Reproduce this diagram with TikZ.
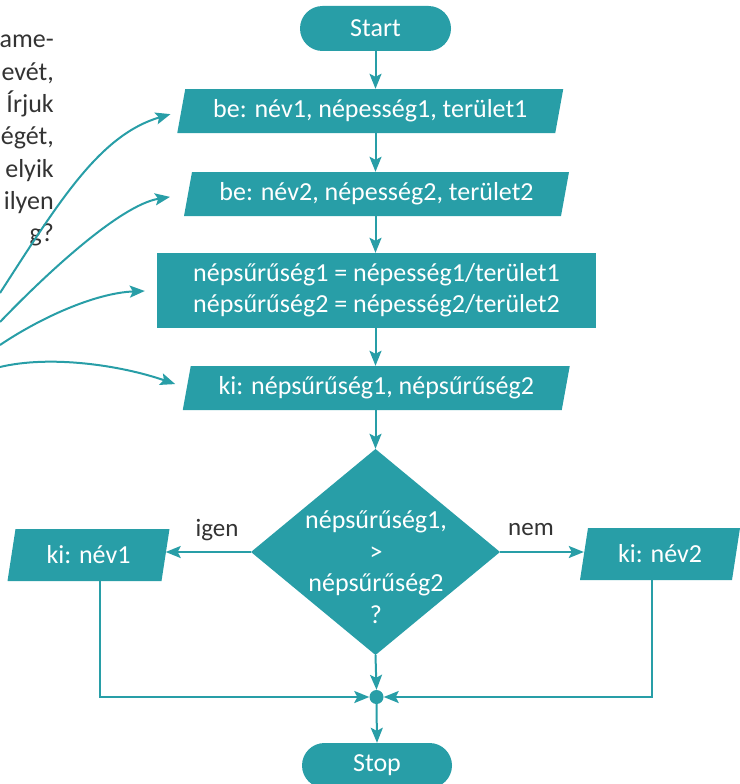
\documentclass[tikz,border=0pt]{standalone}
\usepackage{fontspec}
\setmainfont{Carlito}
\usetikzlibrary{arrows.meta}
\definecolor{tl}{HTML}{289EA7}
\definecolor{ink}{HTML}{333333}
\newcommand{\ioshape}[7]{% name, cx, cy, halfw, halfh, slant, text
  \fill[tl] ({#2-#4+#6},{#3-#5}) -- ({#2+#4+#6},{#3-#5}) -- ({#2+#4-#6},{#3+#5}) -- ({#2-#4-#6},{#3+#5}) -- cycle;
  \node[boxtext, minimum width={2*#4}, minimum height={2*#5}] (#1) at (#2,#3) {#7};}
\tikzset{
  boxtext/.style={inner sep=0pt, text=white, font=\fontsize{26}{31}\selectfont, align=center},
  flow/.style={draw=tl, line width=2pt, -{Stealth[length=15pt,width=12pt,inset=3pt]}},
  curvy/.style={draw=tl, line width=2pt, -{Stealth[length=15pt,width=12pt,inset=3pt]}},
  pill/.style={fill=tl, rounded corners=22.5pt, minimum width=151pt, minimum height=45pt, inner sep=0pt, text=white, font=\fontsize{26}{30}\selectfont},
  lbl/.style={inner sep=0pt, text=ink, font=\fontsize{25}{28}\selectfont},
  paratext/.style={inner sep=0pt, text=ink, font=\fontsize{26}{30}\selectfont, anchor=base east},
}
\begin{document}
\begin{tikzpicture}[x=1pt,y=-1pt]
\useasboundingbox (0,0) rectangle (739,784);
\coordinate (axis) at (375.5,0);
% left paragraph fragment
\foreach \t [count=\i] in {{ame-},{evét,},{Írjuk},{égét,},{elyik},{ilyen},{g?}}
  \node[paratext] (p\i) at (54,{48+32.3*(\i-1)}) {\t};
% flow nodes
\node[pill] (start) at (375.5,28.5) {Start};
\ioshape{be1}{370.25}{111}{189}{22}{4}{be: név1, népesség1, terület1}
\ioshape{be2}{376.5}{194}{188.5}{22}{4}{be: név2, népesség2, terület2}
\node[boxtext, fill=tl, minimum width=439pt, minimum height=75pt] (calc) at (376.5,290.5) {népsűrűség1 = népesség1/terület1\\népsűrűség2 = népesség2/terület2};
\ioshape{kid}{376.25}{388}{189.5}{22}{4}{ki: népsűrűség1, népsűrűség2}
\fill[tl] (375.5,449) -- (500,552) -- (375.5,655) -- (251,552) -- cycle;
\node[inner sep=0pt, minimum width=249pt, minimum height=206pt] (dec) at (375.5,552) {};
\node[boxtext, font=\fontsize{26}{31.5}\selectfont] (dtext) at (376,567) {népsűrűség1,\\>\\népsűrűség2\\?};
\ioshape{k1}{88.5}{555}{77}{26}{4}{ki: név1}
\ioshape{k2}{660}{554}{76}{26}{4}{ki: név2}
\node[circle, fill=tl, minimum size=14pt, inner sep=0pt] (dot) at (376.5,697) {};
\node[pill, minimum width=150pt] (stop) at (377,765.5) {Stop};
\node[lbl] (igen) at (217,530) {igen};
\node[lbl] (nem) at (531,530) {nem};
% connectors
\draw[flow] (start.south) -- (axis |- be1.north);
\draw[flow] (axis |- be1.south) -- (axis |- be2.north);
\draw[flow] (axis |- be2.south) -- (axis |- calc.north);
\draw[flow] (axis |- calc.south) -- (axis |- kid.north);
\draw[flow] (axis |- kid.south) -- (dec.north);
\draw[flow] (dec.west) -- (dec.west -| k1.east);
\draw[flow] (dec.east) -- (dec.east -| k2.west);
\draw[flow] (dec.south) -- (dot.north);
\draw[flow] ([xshift=11.5pt]k1.south) |- (dot.west);
\draw[flow] ([xshift=-8pt]k2.south) |- (dot.east);
\draw[flow] (dot.south) -- (stop.north);
% curved pointers from the text
\coordinate (c1) at (0,293);
\coordinate (c2) at (0,322);
\coordinate (c3) at (0,345);
\coordinate (c4) at (0,367);
\draw[curvy, shorten >=11pt] (c1) .. controls (60,200) and (100,135) .. (be1.west);
\draw[curvy, shorten >=18pt] (c2) .. controls (45,275) and (120,205) .. (be2.west);
\draw[curvy, shorten >=12pt] (c3) .. controls (40,318) and (95,293) .. (calc.west);
\draw[curvy, shorten >=12pt] (c4) .. controls (50,355) and (120,365) .. (kid.west);
\end{tikzpicture}
\end{document}
